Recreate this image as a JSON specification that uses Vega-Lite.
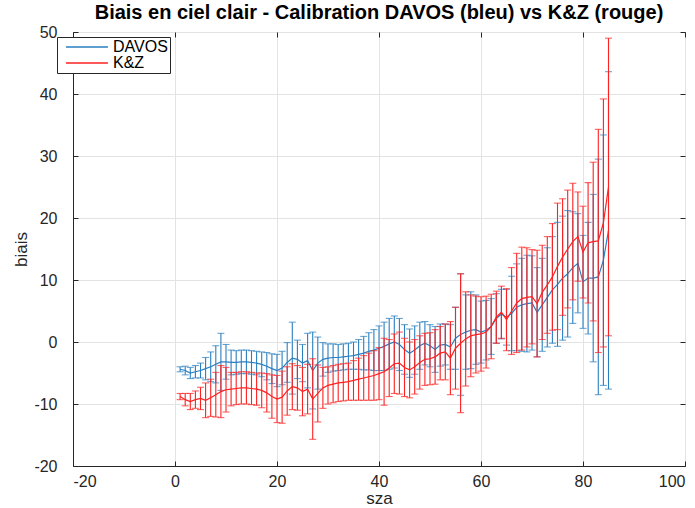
{
  "$schema": "https://vega.github.io/schema/vega-lite/v6.json",
  "width": 612,
  "height": 434,
  "autosize": {"type": "none"},
  "padding": {"left": 73, "top": 32, "right": 10, "bottom": 42},
  "background": "white",
  "title": {
    "text": "Biais en ciel clair - Calibration DAVOS (bleu) vs K&Z (rouge)",
    "font": "Liberation Sans",
    "fontSize": 20,
    "fontWeight": "bold",
    "color": "#000000",
    "anchor": "middle",
    "offset": 1
  },
  "config": {
    "font": "Liberation Sans",
    "view": {"stroke": "#262626", "strokeWidth": 1},
    "axis": {
      "labelFont": "Liberation Sans",
      "labelFontSize": 16,
      "labelColor": "#262626",
      "labelExpr": "replace(datum.label, '−', '-')",
      "titleFont": "Liberation Sans",
      "titleFontSize": 17,
      "titleFontWeight": "normal",
      "titleColor": "#262626",
      "domainColor": "#262626",
      "tickColor": "#262626",
      "gridColor": "#e3e3e3",
      "gridWidth": 1,
      "tickSize": -5
    }
  },
  "data": {"values": [
    {"sza":1,"b":-4.4,"bs":0.4,"r":-8.8,"rs":0.5},
    {"sza":2,"b":-4.6,"bs":0.7,"r":-9.3,"rs":1.0},
    {"sza":3,"b":-5.0,"bs":0.9,"r":-9.6,"rs":1.3},
    {"sza":4,"b":-4.8,"bs":1.0,"r":-9.3,"rs":1.4},
    {"sza":5,"b":-4.6,"bs":1.2,"r":-9.1,"rs":1.8},
    {"sza":6,"b":-4.3,"bs":1.8,"r":-9.4,"rs":2.8},
    {"sza":7,"b":-4.0,"bs":2.4,"r":-9.0,"rs":3.0},
    {"sza":8,"b":-3.6,"bs":3.0,"r":-8.5,"rs":3.6},
    {"sza":9,"b":-3.2,"bs":4.6,"r":-8.0,"rs":4.2},
    {"sza":10,"b":-3.2,"bs":2.8,"r":-7.7,"rs":3.6},
    {"sza":11,"b":-3.3,"bs":2.0,"r":-7.6,"rs":2.7},
    {"sza":12,"b":-3.3,"bs":1.9,"r":-7.5,"rs":2.6},
    {"sza":13,"b":-3.2,"bs":1.9,"r":-7.4,"rs":2.6},
    {"sza":14,"b":-3.2,"bs":1.9,"r":-7.4,"rs":2.6},
    {"sza":15,"b":-3.3,"bs":1.9,"r":-7.5,"rs":2.6},
    {"sza":16,"b":-3.4,"bs":1.9,"r":-7.6,"rs":2.6},
    {"sza":17,"b":-3.6,"bs":2.0,"r":-7.8,"rs":2.8},
    {"sza":18,"b":-3.9,"bs":2.2,"r":-8.2,"rs":3.1},
    {"sza":19,"b":-4.3,"bs":2.4,"r":-8.8,"rs":3.5},
    {"sza":20,"b":-4.6,"bs":2.6,"r":-9.2,"rs":3.8},
    {"sza":21,"b":-4.2,"bs":2.7,"r":-8.9,"rs":4.2},
    {"sza":22,"b":-3.3,"bs":3.2,"r":-7.9,"rs":3.9},
    {"sza":23,"b":-2.6,"bs":5.8,"r":-7.2,"rs":3.7},
    {"sza":24,"b":-2.8,"bs":3.1,"r":-7.4,"rs":3.6},
    {"sza":25,"b":-3.4,"bs":3.0,"r":-8.0,"rs":3.9},
    {"sza":26,"b":-3.0,"bs":4.4,"r":-7.6,"rs":4.0},
    {"sza":27,"b":-4.6,"bs":6.2,"r":-9.2,"rs":6.5},
    {"sza":28,"b":-3.4,"bs":4.2,"r":-8.3,"rs":4.6},
    {"sza":29,"b":-2.8,"bs":2.7,"r":-7.4,"rs":3.3},
    {"sza":30,"b":-2.6,"bs":2.3,"r":-7.0,"rs":3.0},
    {"sza":31,"b":-2.5,"bs":2.2,"r":-6.8,"rs":3.0},
    {"sza":32,"b":-2.5,"bs":2.1,"r":-6.6,"rs":3.0},
    {"sza":33,"b":-2.4,"bs":2.1,"r":-6.5,"rs":3.0},
    {"sza":34,"b":-2.3,"bs":2.1,"r":-6.4,"rs":3.0},
    {"sza":35,"b":-2.2,"bs":2.2,"r":-6.2,"rs":3.2},
    {"sza":36,"b":-2.0,"bs":2.4,"r":-6.0,"rs":3.4},
    {"sza":37,"b":-1.8,"bs":2.7,"r":-5.8,"rs":3.6},
    {"sza":38,"b":-1.5,"bs":3.0,"r":-5.6,"rs":3.8},
    {"sza":39,"b":-1.3,"bs":3.3,"r":-5.4,"rs":4.0},
    {"sza":40,"b":-1.0,"bs":3.6,"r":-5.1,"rs":4.2},
    {"sza":41,"b":-0.7,"bs":3.9,"r":-4.8,"rs":5.4},
    {"sza":42,"b":-0.3,"bs":4.1,"r":-4.2,"rs":4.6},
    {"sza":43,"b":0.0,"bs":4.2,"r":-3.5,"rs":4.8},
    {"sza":44,"b":-0.4,"bs":4.2,"r":-3.4,"rs":5.0},
    {"sza":45,"b":-1.2,"bs":4.0,"r":-4.1,"rs":4.7},
    {"sza":46,"b":-1.8,"bs":3.9,"r":-4.5,"rs":4.5},
    {"sza":47,"b":-1.3,"bs":3.9,"r":-4.0,"rs":4.4},
    {"sza":48,"b":-0.6,"bs":3.8,"r":-3.3,"rs":4.3},
    {"sza":49,"b":-0.2,"bs":3.5,"r":-2.8,"rs":4.2},
    {"sza":50,"b":-0.6,"bs":3.4,"r":-2.7,"rs":4.2},
    {"sza":51,"b":-1.2,"bs":3.7,"r":-2.4,"rs":4.4},
    {"sza":52,"b":-0.5,"bs":3.4,"r":-1.8,"rs":4.3},
    {"sza":53,"b":-0.4,"bs":3.3,"r":-1.6,"rs":4.5},
    {"sza":54,"b":-0.8,"bs":3.6,"r":-2.6,"rs":5.9},
    {"sza":55,"b":0.6,"bs":5.0,"r":-1.0,"rs":6.6},
    {"sza":56,"b":1.2,"bs":9.8,"r":-0.2,"rs":11.2},
    {"sza":57,"b":1.6,"bs":6.0,"r":0.5,"rs":7.6},
    {"sza":58,"b":1.9,"bs":6.2,"r":1.0,"rs":6.6},
    {"sza":59,"b":2.0,"bs":5.6,"r":1.2,"rs":6.2},
    {"sza":60,"b":1.6,"bs":5.0,"r":1.3,"rs":6.0},
    {"sza":61,"b":1.9,"bs":4.8,"r":1.6,"rs":5.8},
    {"sza":62,"b":2.5,"bs":4.5,"r":2.5,"rs":5.2},
    {"sza":63,"b":3.8,"bs":4.0,"r":4.0,"rs":4.2},
    {"sza":64,"b":4.5,"bs":4.0,"r":4.8,"rs":4.2},
    {"sza":65,"b":4.0,"bs":4.5,"r":3.6,"rs":5.0},
    {"sza":66,"b":4.6,"bs":6.0,"r":5.0,"rs":7.0},
    {"sza":67,"b":5.6,"bs":7.0,"r":6.3,"rs":8.0},
    {"sza":68,"b":6.0,"bs":7.5,"r":7.0,"rs":8.3},
    {"sza":69,"b":6.2,"bs":7.8,"r":7.2,"rs":8.0},
    {"sza":70,"b":6.3,"bs":7.6,"r":7.3,"rs":7.6},
    {"sza":71,"b":4.8,"bs":7.2,"r":6.2,"rs":8.6},
    {"sza":72,"b":6.0,"bs":7.5,"r":8.0,"rs":7.6},
    {"sza":73,"b":7.2,"bs":8.0,"r":9.2,"rs":7.8},
    {"sza":74,"b":8.4,"bs":8.6,"r":10.5,"rs":8.6},
    {"sza":75,"b":9.3,"bs":10.0,"r":12.2,"rs":10.2},
    {"sza":76,"b":10.3,"bs":10.0,"r":13.7,"rs":9.4},
    {"sza":77,"b":11.0,"bs":10.2,"r":15.0,"rs":9.5},
    {"sza":78,"b":12.0,"bs":9.0,"r":16.2,"rs":9.4},
    {"sza":79,"b":12.7,"bs":8.0,"r":17.0,"rs":7.2},
    {"sza":80,"b":9.7,"bs":7.5,"r":14.5,"rs":7.4},
    {"sza":81,"b":10.3,"bs":9.0,"r":16.0,"rs":9.7},
    {"sza":82,"b":10.3,"bs":13.5,"r":16.2,"rs":12.8},
    {"sza":83,"b":10.5,"bs":19.0,"r":16.3,"rs":18.0},
    {"sza":84,"b":13.2,"bs":20.2,"r":19.2,"rs":20.0},
    {"sza":85,"b":18.0,"bs":25.6,"r":25.0,"rs":24.0}
  ]},
  "resolve": {"axis": {"x": "independent", "y": "independent"}},
  "layer": [
    {
      "encoding": {
        "x": {
          "field": "sza", "type": "quantitative",
          "scale": {"domain": [-20, 100], "nice": false, "zero": false},
          "axis": {"values": [-20, 0, 20, 40, 60, 80, 100], "title": "sza", "grid": true, "labelPadding": 12, "titlePadding": 1}
        }
      },
      "layer": [
        {
          "mark": {"type": "errorbar", "color": "#2a7fc0", "thickness": 1.1, "ticks": {"size": 7, "thickness": 1.1, "color": "#2a7fc0"}},
          "encoding": {
            "y": {"field": "b", "type": "quantitative", "title": "biais",
              "scale": {"domain": [-20, 50], "nice": false, "zero": false},
              "axis": {"values": [-20, -10, 0, 10, 20, 30, 40, 50], "title": "biais", "grid": true, "labelPadding": 21, "titlePadding": 3}},
            "yError": {"field": "bs"}
          }
        },
        {
          "mark": {"type": "line", "strokeWidth": 1.2},
          "encoding": {
            "y": {"field": "b", "type": "quantitative", "title": "biais"},
            "color": {"datum": "DAVOS", "type": "nominal",
              "scale": {"domain": ["DAVOS", "K&Z"], "range": ["#2a7fc0", "#ff2020"]},
              "legend": {
                "title": null, "orient": "none", "legendX": -16, "legendY": 5,
                "symbolType": "M-0.15,0H5.85", "symbolSize": 196, "symbolStrokeWidth": 1.5,
                "labelFont": "Liberation Sans", "labelFontSize": 16, "labelColor": "#000000",
                "strokeColor": "#262626", "fillColor": "white", "padding": 2, "rowPadding": 0,
                "labelOffset": 38
              }}
          }
        },
        {
          "mark": {"type": "errorbar", "color": "#ff2020", "thickness": 1.1, "ticks": {"size": 7, "thickness": 1.1, "color": "#ff2020"}},
          "encoding": {
            "y": {"field": "r", "type": "quantitative", "title": "biais"},
            "yError": {"field": "rs"}
          }
        },
        {
          "mark": {"type": "line", "strokeWidth": 1.2},
          "encoding": {
            "y": {"field": "r", "type": "quantitative", "title": "biais"},
            "color": {"datum": "K&Z", "type": "nominal"}
          }
        }
      ]
    },
    {
      "mark": {"type": "point", "opacity": 0},
      "encoding": {
        "x": {"field": "sza", "type": "quantitative",
          "axis": {"orient": "top", "values": [-20, 0, 20, 40, 60, 80, 100], "labels": false, "title": null, "grid": false, "domain": false}},
        "y": {"field": "b", "type": "quantitative",
          "axis": {"orient": "right", "values": [-20, -10, 0, 10, 20, 30, 40, 50], "labels": false, "title": null, "grid": false, "domain": false}}
      }
    }
  ]
}
